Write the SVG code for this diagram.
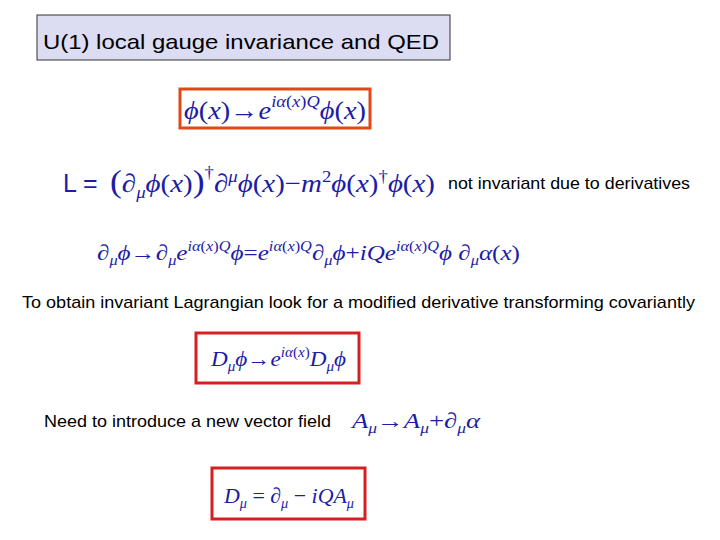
<svg xmlns="http://www.w3.org/2000/svg" width="720" height="540" viewBox="0 0 720 540">
<style>
.m{font-family:"Liberation Serif",serif;font-style:italic;fill:#1c1ca8}
.t{font-family:"Liberation Sans",Arial,sans-serif;fill:#000}
.sup{font-size:65%}
</style>
<rect width="720" height="540" fill="#fff"/>
<g id="title"><rect x="37" y="15" width="413" height="45" fill="#dcdcf2" stroke="#333" stroke-width="1"/>
<text class="t" x="43" y="49" font-size="21" textLength="396" lengthAdjust="spacingAndGlyphs">U(1) local gauge invariance and QED</text></g>
<g id="eq1"><rect x="180" y="89" width="190" height="39" fill="none" stroke="#e04818" stroke-width="3"/>
<text class="m" x="184" y="119" font-size="26" textLength="182" lengthAdjust="spacingAndGlyphs">ϕ<tspan font-style="normal">(</tspan>x<tspan font-style="normal">)→</tspan>e<tspan class="sup" dy="-12">iα<tspan font-style="normal">(</tspan>x<tspan font-style="normal">)</tspan>Q</tspan><tspan dy="12">ϕ</tspan><tspan font-style="normal">(</tspan>x<tspan font-style="normal">)</tspan></text></g>
<g id="lagr"><text x="63" y="192" font-size="25" fill="#1c1ca8" font-family="Liberation Sans,sans-serif">L =</text>
<text class="m" x="110" y="192" font-size="26" textLength="325" lengthAdjust="spacingAndGlyphs"><tspan font-style="normal" font-size="32">(</tspan>∂<tspan class="sup" dy="6">μ</tspan><tspan dy="-6">ϕ</tspan><tspan font-style="normal">(</tspan>x<tspan font-style="normal">)</tspan><tspan font-style="normal" font-size="32">)</tspan><tspan class="sup" dy="-14" font-style="normal">†</tspan><tspan dy="14">∂</tspan><tspan class="sup" dy="-10">μ</tspan><tspan dy="10">ϕ</tspan><tspan font-style="normal">(</tspan>x<tspan font-style="normal">)−</tspan>m<tspan class="sup" dy="-10" font-style="normal">2</tspan><tspan dy="10">ϕ</tspan><tspan font-style="normal">(</tspan>x<tspan font-style="normal">)</tspan><tspan class="sup" dy="-10" font-style="normal">†</tspan><tspan dy="10">ϕ</tspan><tspan font-style="normal">(</tspan>x<tspan font-style="normal">)</tspan></text>
<text class="t" x="448" y="189" font-size="17" textLength="242" lengthAdjust="spacingAndGlyphs">not invariant due to derivatives</text></g>
<g id="eq3"><text class="m" x="97" y="260" font-size="22" textLength="423" lengthAdjust="spacingAndGlyphs">∂<tspan class="sup" dy="5">μ</tspan><tspan dy="-5">ϕ</tspan><tspan font-style="normal">→</tspan>∂<tspan class="sup" dy="5">μ</tspan><tspan dy="-5">e</tspan><tspan class="sup" dy="-9">iα<tspan font-style="normal">(</tspan>x<tspan font-style="normal">)</tspan>Q</tspan><tspan dy="9">ϕ</tspan><tspan font-style="normal">=</tspan>e<tspan class="sup" dy="-9">iα<tspan font-style="normal">(</tspan>x<tspan font-style="normal">)</tspan>Q</tspan><tspan dy="9">∂</tspan><tspan class="sup" dy="5">μ</tspan><tspan dy="-5">ϕ</tspan><tspan font-style="normal">+</tspan>iQe<tspan class="sup" dy="-9">iα<tspan font-style="normal">(</tspan>x<tspan font-style="normal">)</tspan>Q</tspan><tspan dy="9">ϕ ∂</tspan><tspan class="sup" dy="5">μ</tspan><tspan dy="-5">α</tspan><tspan font-style="normal">(</tspan>x<tspan font-style="normal">)</tspan></text></g>
<g id="text1"><text class="t" x="22" y="308" font-size="17" textLength="673" lengthAdjust="spacingAndGlyphs">To obtain invariant Lagrangian look for a modified derivative transforming covariantly</text></g>
<g id="eq4"><rect x="196" y="333" width="163" height="50" fill="none" stroke="#d42020" stroke-width="3"/>
<text class="m" x="211" y="366" font-size="22" textLength="135" lengthAdjust="spacingAndGlyphs">D<tspan class="sup" dy="5">μ</tspan><tspan dy="-5">ϕ</tspan><tspan font-style="normal">→</tspan>e<tspan class="sup" dy="-9">iα<tspan font-style="normal">(</tspan>x<tspan font-style="normal">)</tspan></tspan><tspan dy="9">D</tspan><tspan class="sup" dy="5">μ</tspan><tspan dy="-5">ϕ</tspan></text></g>
<g id="text2"><text class="t" x="44" y="427" font-size="17" textLength="287" lengthAdjust="spacingAndGlyphs">Need to introduce a new vector field</text>
<text class="m" x="352" y="428" font-size="22" textLength="128" lengthAdjust="spacingAndGlyphs">A<tspan class="sup" dy="5">μ</tspan><tspan dy="-5" font-style="normal">→</tspan>A<tspan class="sup" dy="5">μ</tspan><tspan dy="-5" font-style="normal">+</tspan>∂<tspan class="sup" dy="5">μ</tspan><tspan dy="-5">α</tspan></text></g>
<g id="eq5"><rect x="212" y="468" width="153" height="51" fill="none" stroke="#d42020" stroke-width="3"/>
<text class="m" x="224" y="503" font-size="22" textLength="130" lengthAdjust="spacingAndGlyphs">D<tspan class="sup" dy="5">μ</tspan><tspan dy="-5" font-style="normal"> = </tspan>∂<tspan class="sup" dy="5">μ</tspan><tspan dy="-5" font-style="normal"> − </tspan>iQA<tspan class="sup" dy="5">μ</tspan></text></g>
</svg>
